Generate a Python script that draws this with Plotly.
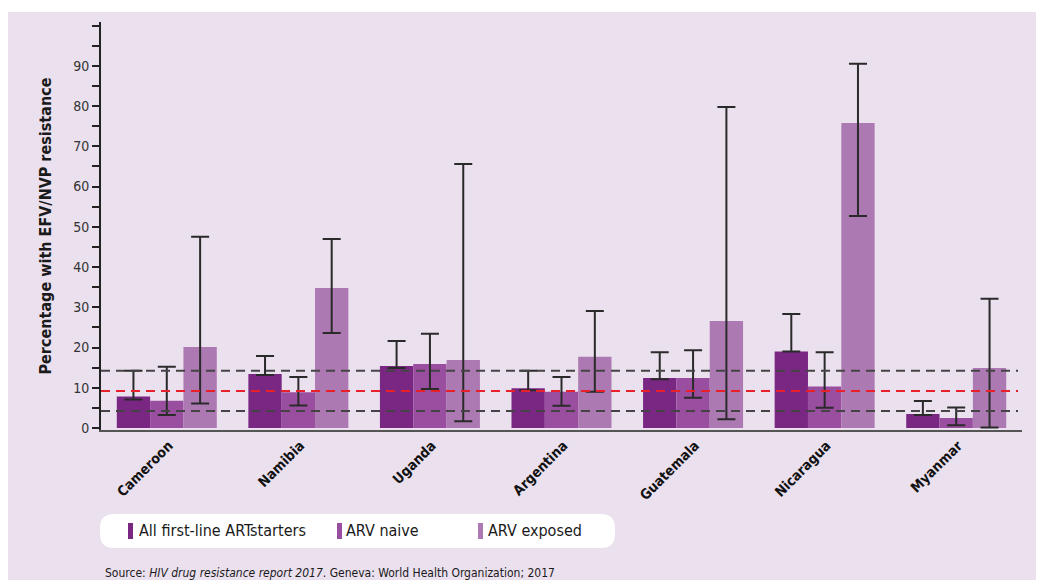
import plotly.graph_objects as go

countries = ["Cameroon", "Namibia", "Uganda", "Argentina", "Guatemala", "Nicaragua", "Myanmar"]

all_starters = [7.8, 13.4, 15.4, 9.9, 12.4, 19.0, 3.5]
all_lo = [7.1, 13.2, 14.9, 9.4, 12.1, 19.0, 3.2]
all_hi = [14.2, 17.9, 21.6, 14.2, 18.8, 28.3, 6.7]

naive = [6.8, 8.9, 15.9, 9.0, 12.4, 10.3, 2.5]
naive_lo = [3.2, 5.6, 9.7, 5.5, 7.5, 5.0, 0.7]
naive_hi = [15.2, 12.7, 23.4, 12.7, 19.3, 18.8, 5.1]

exposed = [20.1, 34.8, 16.9, 17.7, 26.6, 75.8, 14.9]
exposed_lo = [6.1, 23.6, 1.7, 9.0, 2.2, 52.7, 0.1]
exposed_hi = [47.5, 47.0, 65.6, 29.1, 79.8, 90.5, 32.1]

ref_lines = [14.2, 9.2, 4.2]
ref_colors = ["#444444", "#E8202A", "#444444"]

series_names = ["All first-line ARTstarters", "ARV naive", "ARV exposed"]
colors = ["#7A2784", "#9A4E9F", "#AD79B3"]

ytick_vals = list(range(0, 101, 5))
ytick_text = [str(v) if (v % 10 == 0 and v <= 90) else "" for v in ytick_vals]

FONT = "Liberation Sans Narrow, Arial Narrow, DejaVu Sans Condensed, sans-serif"
OFF = 8  # page body margin
W, H = 1036, 572
L, R, T, B = 93, 22, 14, 150
PW, PH = W - L - R, H - T - B


def px(x):
    return (x - OFF - L) / PW


def py(y):
    return (H - B - (y - OFF)) / PH


def rounded_path(x0, y0, x1, y1, r, corners=(True, True, True, True)):
    tl, tr, br, bl = corners
    rx = r / PW
    ry = r / PH
    X0, X1 = px(x0), px(x1)
    Yt, Yb = py(y0), py(y1)
    p = [f"M {X0 + (rx if tl else 0)},{Yt}"]
    p.append(f"L {X1 - rx},{Yt} Q {X1},{Yt} {X1},{Yt - ry}" if tr else f"L {X1},{Yt}")
    p.append(f"L {X1},{Yb + ry} Q {X1},{Yb} {X1 - rx},{Yb}" if br else f"L {X1},{Yb}")
    p.append(f"L {X0 + rx},{Yb} Q {X0},{Yb} {X0},{Yb + ry}" if bl else f"L {X0},{Yb}")
    p.append(f"L {X0},{Yt - ry} Q {X0},{Yt} {X0 + rx},{Yt}" if tl else f"L {X0},{Yt}")
    p.append("Z")
    return " ".join(p)


fig = go.Figure()
data = [(all_starters, all_lo, all_hi), (naive, naive_lo, naive_hi), (exposed, exposed_lo, exposed_hi)]
for (vals, lo, hi), name, col in zip(data, series_names, colors):
    fig.add_trace(go.Bar(
        x=countries, y=vals, name=name,
        marker=dict(color=col, line=dict(width=0)),
        error_y=dict(type="data", symmetric=False,
                     array=[h - v for h, v in zip(hi, vals)],
                     arrayminus=[v - l for v, l in zip(vals, lo)],
                     color="#2a2a2a", thickness=2, width=9),
        showlegend=False,
    ))

shapes = []
shapes.append(dict(type="path", xref="paper", yref="paper", layer="below",
                   path=rounded_path(7, 12, 1060, 600, 10, (False, False, False, False)),
                   fillcolor="#EBE0EE", line=dict(width=0)))
for v, c in zip(ref_lines, ref_colors):
    shapes.append(dict(type="line", xref="paper", yref="y", x0=0, x1=px(1018), y0=v, y1=v,
                       line=dict(color=c, width=2, dash="9px,6px"), layer="above"))
shapes.append(dict(type="path", xref="paper", yref="paper",
                   path=rounded_path(100, 514, 615, 548, 14),
                   fillcolor="#FFFFFF", line=dict(width=0)))
icon_x = [128, 337, 478]
text_x = [137, 344, 486]
for ix, col in zip(icon_x, colors):
    shapes.append(dict(type="rect", xref="paper", yref="paper",
                       x0=px(ix), x1=px(ix + 5), y0=py(539), y1=py(523),
                       fillcolor=col, line=dict(width=0)))

annotations = []
for tx, name in zip(text_x, series_names):
    annotations.append(dict(x=px(tx), y=py(530), xref="paper", yref="paper", text=name,
                            showarrow=False, xanchor="left", yanchor="middle",
                            font=dict(family=FONT, size=16, color="#1a1a1a")))
annotations.append(dict(x=px(103), y=py(573), xref="paper", yref="paper",
                        text="Source: <i>HIV drug resistance report 2017</i>. Geneva: World Health Organization; 2017",
                        showarrow=False, xanchor="left", yanchor="middle",
                        font=dict(family=FONT, size=12, color="#1a1a1a")))

fig.update_layout(
    width=W, height=H,
    margin=dict(l=L, r=R, t=T, b=B, pad=0),
    paper_bgcolor="#FFFFFF",
    plot_bgcolor="rgba(0,0,0,0)",
    barmode="group", bargap=0.24, bargroupgap=0,
    shapes=shapes, annotations=annotations,
    showlegend=False,
    font=dict(family=FONT, color="#1a1a1a"),
)
fig.update_xaxes(
    showline=True, linecolor="#555555", linewidth=2, showgrid=False, zeroline=False,
    ticks="", tickangle=-45, ticklabelshift=2, ticklabelstandoff=0,
    tickfont=dict(family=FONT, size=14, color="#111111", weight="bold"),
)
fig.update_yaxes(
    range=[-0.5, 100.9], showline=True, linecolor="#222222", linewidth=2,
    showgrid=False, zeroline=False,
    tickmode="array", tickvals=ytick_vals, ticktext=ytick_text,
    ticks="outside", ticklen=7, tickwidth=2, tickcolor="#222222",
    tickfont=dict(family=FONT, size=14, color="#333333"),
    title=dict(text="<b>Percentage with EFV/NVP resistance</b>", standoff=18,
               font=dict(family=FONT, size=16, color="#1a1a1a")),
)

fig.write_html("out.html")
